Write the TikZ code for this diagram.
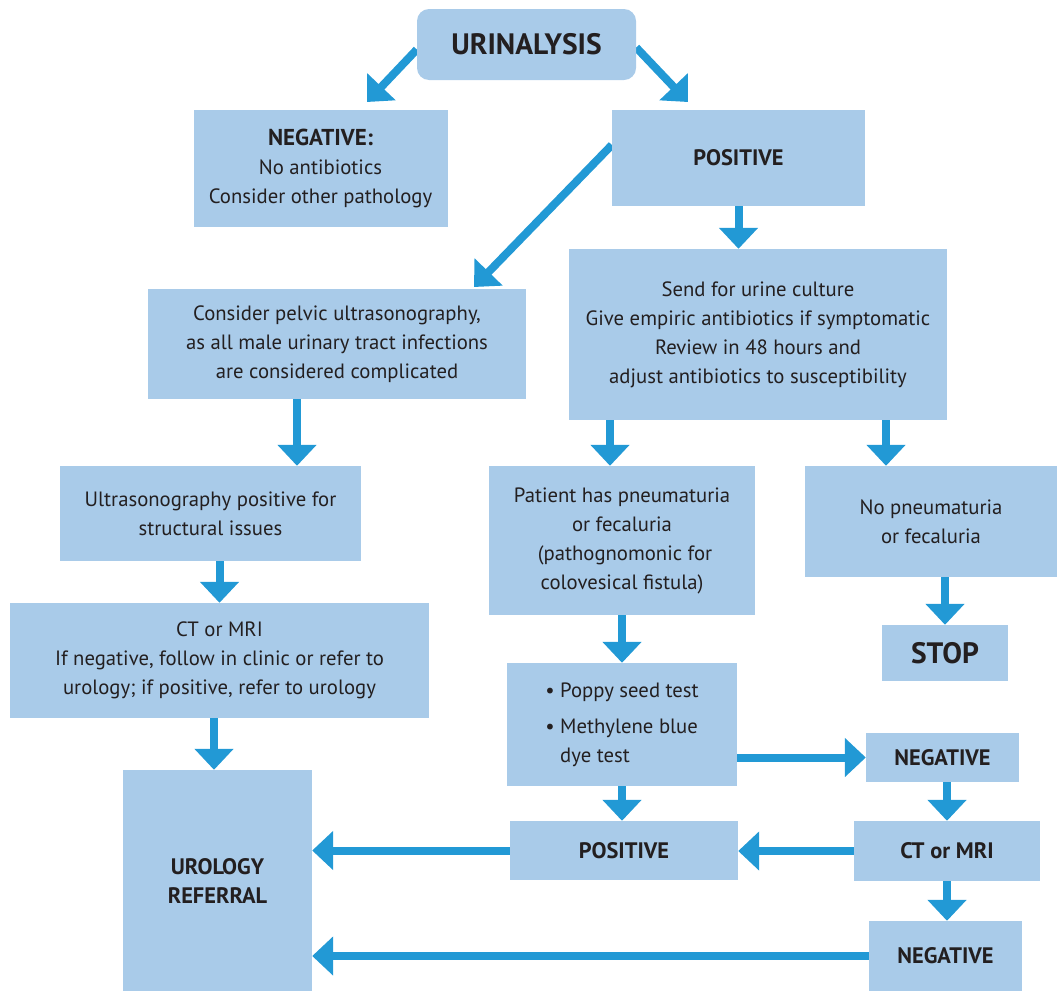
\documentclass[tikz,border=0pt]{standalone}
\usepackage{fontspec}
\setmainfont{PT Sans}
\usetikzlibrary{arrows.meta}
\definecolor{boxblue}{HTML}{A9CBE9}
\definecolor{arrblue}{HTML}{2299D5}
\definecolor{txt}{HTML}{231F20}
\pgfdeclarelayer{bg}
\pgfsetlayers{bg,main}
\begin{document}
\begin{tikzpicture}[x=1pt,y=-1pt,
  box/.style={fill=boxblue, draw=none, text=txt, align=center, inner sep=0pt, font=\fontsize{20.7}{29}\selectfont},
  bbox/.style={box, font=\fontsize{22.4}{29}\selectfont\bfseries},
  bigbox/.style={box, font=\fontsize{29.5}{36}\selectfont\bfseries},
  arr/.style={draw=arrblue, fill=arrblue, line width=8pt, -{Triangle[width=38pt,length=21pt]}}
]
\useasboundingbox (0,0) rectangle (1057,991);

\node[bigbox, rounded corners=12pt, minimum width=219pt, minimum height=71pt] (uri) at (526.5,44.5) {URINALYSIS};
\node[box, minimum width=254pt, minimum height=117pt] (neg) at (320.5,168.5) {{\fontsize{23}{29}\selectfont\bfseries NEGATIVE:}\\No antibiotics\\Consider other pathology};
\node[bbox, minimum width=253pt, minimum height=96pt] (pos) at (738.5,158) {POSITIVE};
\node[box, minimum width=378pt, minimum height=110pt] (pelvic) at (337,344) {Consider pelvic ultrasonography,\\as all male urinary tract infections\\are considered complicated};
\node[box, minimum width=378pt, minimum height=171pt] (culture) at (758,334.5) {Send for urine culture\\Give empiric antibiotics if symptomatic\\Review in 48 hours and\\adjust antibiotics to susceptibility};
\node[box, minimum width=301pt, minimum height=95pt] (ultra) at (210.5,513.5) {Ultrasonography positive for\\structural issues};
\node[box, minimum width=266pt, minimum height=149pt] (pneu) at (622,540.5) {Patient has pneumaturia\\or fecaluria\\\hspace*{6pt}(pathognomonic for\\colovesical fistula)};
\node[box, minimum width=252pt, minimum height=111pt] (nopneu) at (931,521.5) {No pneumaturia\\or fecaluria};
\node[bigbox, minimum width=126pt, minimum height=56pt] (stop) at (945,653) {STOP};
\node[box, minimum width=419pt, minimum height=115pt] (ctl) at (219.5,660.5) {CT or MRI\\If negative, follow in clinic or refer to\\urology; if positive, refer to urology};
\node[box, align=left, minimum width=230pt, minimum height=123pt] (poppy) at (622,724.5) {\textbullet\ Poppy seed test\\[7pt]\textbullet\ Methylene blue\\\phantom{\textbullet\ }dye test};
\node[bbox, minimum width=153pt, minimum height=49pt] (neg1) at (942.5,757.5) {NEGATIVE};
\node[bbox, minimum width=189pt, minimum height=221pt] (uro) at (217.5,880.5) {UROLOGY\\REFERRAL};
\node[bbox, minimum width=228pt, minimum height=59pt] (posb) at (624,850.5) {POSITIVE};
\node[bbox, minimum width=186pt, minimum height=60pt] (ctr) at (947,851) {CT or MRI};
\node[bbox, minimum width=153pt, minimum height=70pt] (negb) at (945.5,956) {NEGATIVE};

\coordinate (t1) at (367,102);
\coordinate (t2) at (688,102);
\coordinate (t3) at (474,287);

\begin{pgfonlayer}{bg}
\draw[arr] ([yshift=-5pt]uri.west) -- (t1);
\draw[arr] ([yshift=-3pt]uri.east) -- (t2);
\draw[arr] ([yshift=13pt]pos.west) -- (t3);
\draw[arr] (pos.south) -- (pos.south |- culture.north);
\draw[arr] ([xshift=-40pt]pelvic.south) -- ([xshift=-40pt]pelvic.south |- ultra.north);
\draw[arr] ([xshift=-12pt]pneu.north |- culture.south) -- ([xshift=-12pt]pneu.north);
\draw[arr] ([xshift=-45pt]nopneu.north |- culture.south) -- ([xshift=-45pt]nopneu.north);
\draw[arr] (ctl.north |- ultra.south) -- (ctl.north);
\draw[arr] (stop.north |- nopneu.south) -- (stop.north);
\draw[arr] (pneu.south) -- (poppy.north);
\draw[arr] ([xshift=-3.5pt]uro.north |- ctl.south) -- ([xshift=-3.5pt]uro.north);
\draw[arr] (poppy.east |- neg1.west) -- (neg1.west);
\draw[arr] (poppy.south) -- (poppy.south |- posb.north);
\draw[arr] (ctr.north |- neg1.south) -- (ctr.north);
\draw[arr] (ctr.west) -- (posb.east |- ctr.west);
\draw[arr] (posb.west) -- (uro.east |- posb.west);
\draw[arr] (ctr.south) -- (ctr.south |- negb.north);
\draw[arr] (negb.west) -- (uro.east |- negb.west);
\end{pgfonlayer}
\end{tikzpicture}
\end{document}
